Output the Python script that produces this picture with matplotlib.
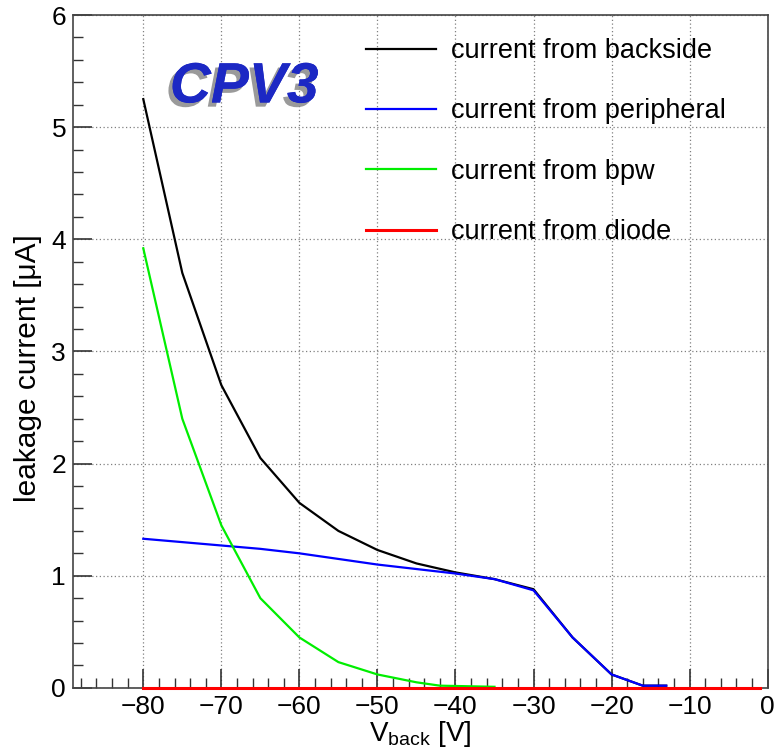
import numpy as np
import matplotlib.pyplot as plt
import matplotlib.patheffects as pe
from matplotlib.ticker import MultipleLocator

plt.rcParams['font.family'] = ['Liberation Sans', 'DejaVu Sans']
plt.rcParams['mathtext.fontset'] = 'custom'
plt.rcParams['mathtext.rm'] = 'Liberation Sans'

v_back = [-80, -75, -70, -65, -60, -55, -50, -45, -40, -35, -30, -25, -20, -16, -13]
i_backside = [5.25, 3.70, 2.70, 2.05, 1.65, 1.40, 1.23, 1.11, 1.03, 0.97, 0.88, 0.45, 0.12, 0.02, 0.02]
i_peripheral = [1.33, 1.30, 1.27, 1.24, 1.20, 1.15, 1.10, 1.06, 1.02, 0.97, 0.87, 0.45, 0.12, 0.02, 0.02]

v_bpw = [-80, -75, -70, -65, -60, -55, -50, -45, -42, -35]
i_bpw = [3.92, 2.40, 1.45, 0.80, 0.45, 0.23, 0.12, 0.05, 0.02, 0.01]

v_diode = [-80, -70, -60, -50, -40, -30, -20, -10, -1]
i_diode = [0, 0, 0, 0, 0, 0, 0, 0, 0]

fig = plt.figure(figsize=(7.77, 7.51), dpi=100)
ax = fig.add_axes([0.094, 0.084, 0.894, 0.896])

ax.plot(v_back, i_backside, color='black', lw=1.6, label='current from backside')
ax.plot(v_back, i_peripheral, color='blue', lw=1.6, label='current from peripheral')
ax.plot(v_bpw, i_bpw, color='#00ee00', lw=1.6, label='current from bpw')
ax.plot(v_diode, i_diode, color='red', lw=2.2, label='current from diode', clip_on=False, zorder=5)

ax.set_xlim(-89, 0)
ax.set_ylim(0, 6)
ax.xaxis.set_major_locator(MultipleLocator(10))
ax.xaxis.set_minor_locator(MultipleLocator(2))
ax.yaxis.set_major_locator(MultipleLocator(1))
ax.yaxis.set_minor_locator(MultipleLocator(0.2))
ax.tick_params(which='both', direction='in', top=False, right=False, labelsize=19, color='#333333')
ax.tick_params(which='major', length=14, width=1.2, pad=5)
ax.tick_params(which='minor', length=7, width=1.0)
ax.grid(True, which='major', color='gray', linestyle=(0, (1, 2)), lw=0.9)
for s in ax.spines.values():
    s.set_color('#444444')
    s.set_linewidth(1.2)

ax.set_xlabel(r'V$_{\mathrm{back}}$ [V]', fontsize=20)
ax.xaxis.set_label_coords(0.5, -0.079, transform=ax.transAxes)
ax.xaxis.label.set_va('baseline')
ax.set_ylabel('leakage current [μA]', fontsize=21.5)
ax.yaxis.set_label_coords(-0.045, 0.475)

ax.text(-76.6, 5.22, 'CPV3', fontsize=41, color='#1c28c4', style='italic', weight='bold',
        path_effects=[pe.withSimplePatchShadow(offset=(-3, -3), shadow_rgbFace='#888888', alpha=0.85), pe.Normal()])

leg = ax.legend(loc='upper left', bbox_to_anchor=(366 / 777, 1 - 38 / 751),
                bbox_transform=fig.transFigure, frameon=False, fontsize=19.5, borderpad=0,
                borderaxespad=0, handlelength=2.6, labelspacing=1.27, handletextpad=0.55)

fig.savefig('out.png', dpi=100)
